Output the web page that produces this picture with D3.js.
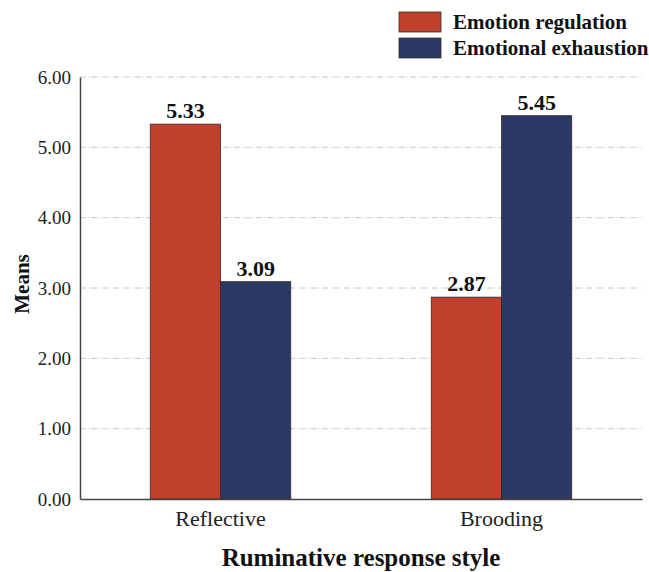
<!DOCTYPE html>
<html><head><meta charset="utf-8">
<script src="https://cdn.jsdelivr.net/npm/d3@7"></script>
<style>body{margin:0;background:#fff}</style>
</head><body>
<svg id="c" width="649" height="572"></svg>
<script>
const categories = ["Reflective", "Brooding"];
const seriesNames = ["Emotion regulation", "Emotional exhaustion"];
const emotionRegulation = [5.33, 2.87];
const emotionalExhaustion = [3.09, 5.45];
const yTicks = [0, 1, 2, 3, 4, 5, 6];
const colors = ["#C0402B", "#2A3864"];

(function(){
const svg = d3.select("#c");
const font = "'Liberation Serif', 'Times New Roman', serif";
const mLeft = 80, mRight = 642, mTop = 77, mBottom = 499;

const x = d3.scaleBand().domain(categories).range([mLeft, mRight]).padding(0);
const xs = d3.scaleBand().domain(seriesNames).range([x.bandwidth()*0.25, x.bandwidth()*0.75]).padding(0);
const y = d3.scaleLinear().domain([0, 6]).range([mBottom, mTop]);

// gridlines
svg.append("g").selectAll("line").data(yTicks.filter(d => d > 0)).join("line")
  .attr("x1", mLeft).attr("x2", mRight)
  .attr("y1", d => y(d)).attr("y2", d => y(d))
  .attr("stroke", "#c8c8c8").attr("stroke-width", 1)
  .attr("stroke-dasharray", "6,2,1,2");

const data = categories.map((c, i) => ({c, vals: [emotionRegulation[i], emotionalExhaustion[i]]}));

const g = svg.append("g").selectAll("g").data(data).join("g")
  .attr("transform", d => `translate(${x(d.c)},0)`);
g.selectAll("rect").data(d => d.vals.map((v, j) => ({v, s: seriesNames[j], j}))).join("rect")
  .attr("x", d => xs(d.s)).attr("width", xs.bandwidth())
  .attr("y", d => y(d.v)).attr("height", d => y(0) - y(d.v))
  .attr("fill", d => colors[d.j]).attr("stroke", "#3a2a28").attr("stroke-width", 0.8);
g.selectAll("text").data(d => d.vals.map((v, j) => ({v, s: seriesNames[j]}))).join("text")
  .attr("x", d => xs(d.s) + xs.bandwidth()/2).attr("y", d => y(d.v) - 6)
  .attr("text-anchor", "middle").attr("font-family", font).attr("font-weight", "bold")
  .attr("font-size", 22).attr("fill", "#111").text(d => d.v.toFixed(2));

// y axis
const ya = svg.append("g").attr("transform", `translate(${mLeft},0)`)
  .call(d3.axisLeft(y).tickValues(yTicks).tickFormat(d3.format(".2f")).tickSize(0).tickPadding(9));
ya.select(".domain").attr("stroke", "#444").attr("stroke-width", 1.5);
ya.selectAll("text").attr("font-family", font).attr("font-size", 19).attr("fill", "#222");

// x axis
const xa = svg.append("g").attr("transform", `translate(0,${mBottom})`)
  .call(d3.axisBottom(x).tickSize(0).tickPadding(11));
xa.select(".domain").attr("stroke", "#444").attr("stroke-width", 1.5);
xa.selectAll("text").attr("font-family", font).attr("font-size", 22).attr("fill", "#222");

// axis titles
svg.append("text").attr("transform", "translate(29,284) rotate(-90)")
  .attr("text-anchor", "middle").attr("font-family", font).attr("font-weight", "bold")
  .attr("font-size", 21).attr("fill", "#111").text("Means");
svg.append("text").attr("x", (mLeft + mRight)/2).attr("y", 566)
  .attr("text-anchor", "middle").attr("font-family", font).attr("font-weight", "bold")
  .attr("font-size", 25).attr("fill", "#111").text("Ruminative response style");

// legend
const lg = svg.append("g").selectAll("g").data(seriesNames).join("g")
  .attr("transform", (d, i) => `translate(399,${12 + i*26})`);
lg.append("rect").attr("width", 42).attr("height", 20)
  .attr("fill", (d, i) => colors[i]).attr("stroke", "#3a2a28").attr("stroke-width", 0.8);
lg.append("text").attr("x", 54).attr("y", 17).attr("font-family", font).attr("font-weight", "bold")
  .attr("font-size", 21).attr("fill", "#111").text(d => d);
})();
</script>
</body></html>
